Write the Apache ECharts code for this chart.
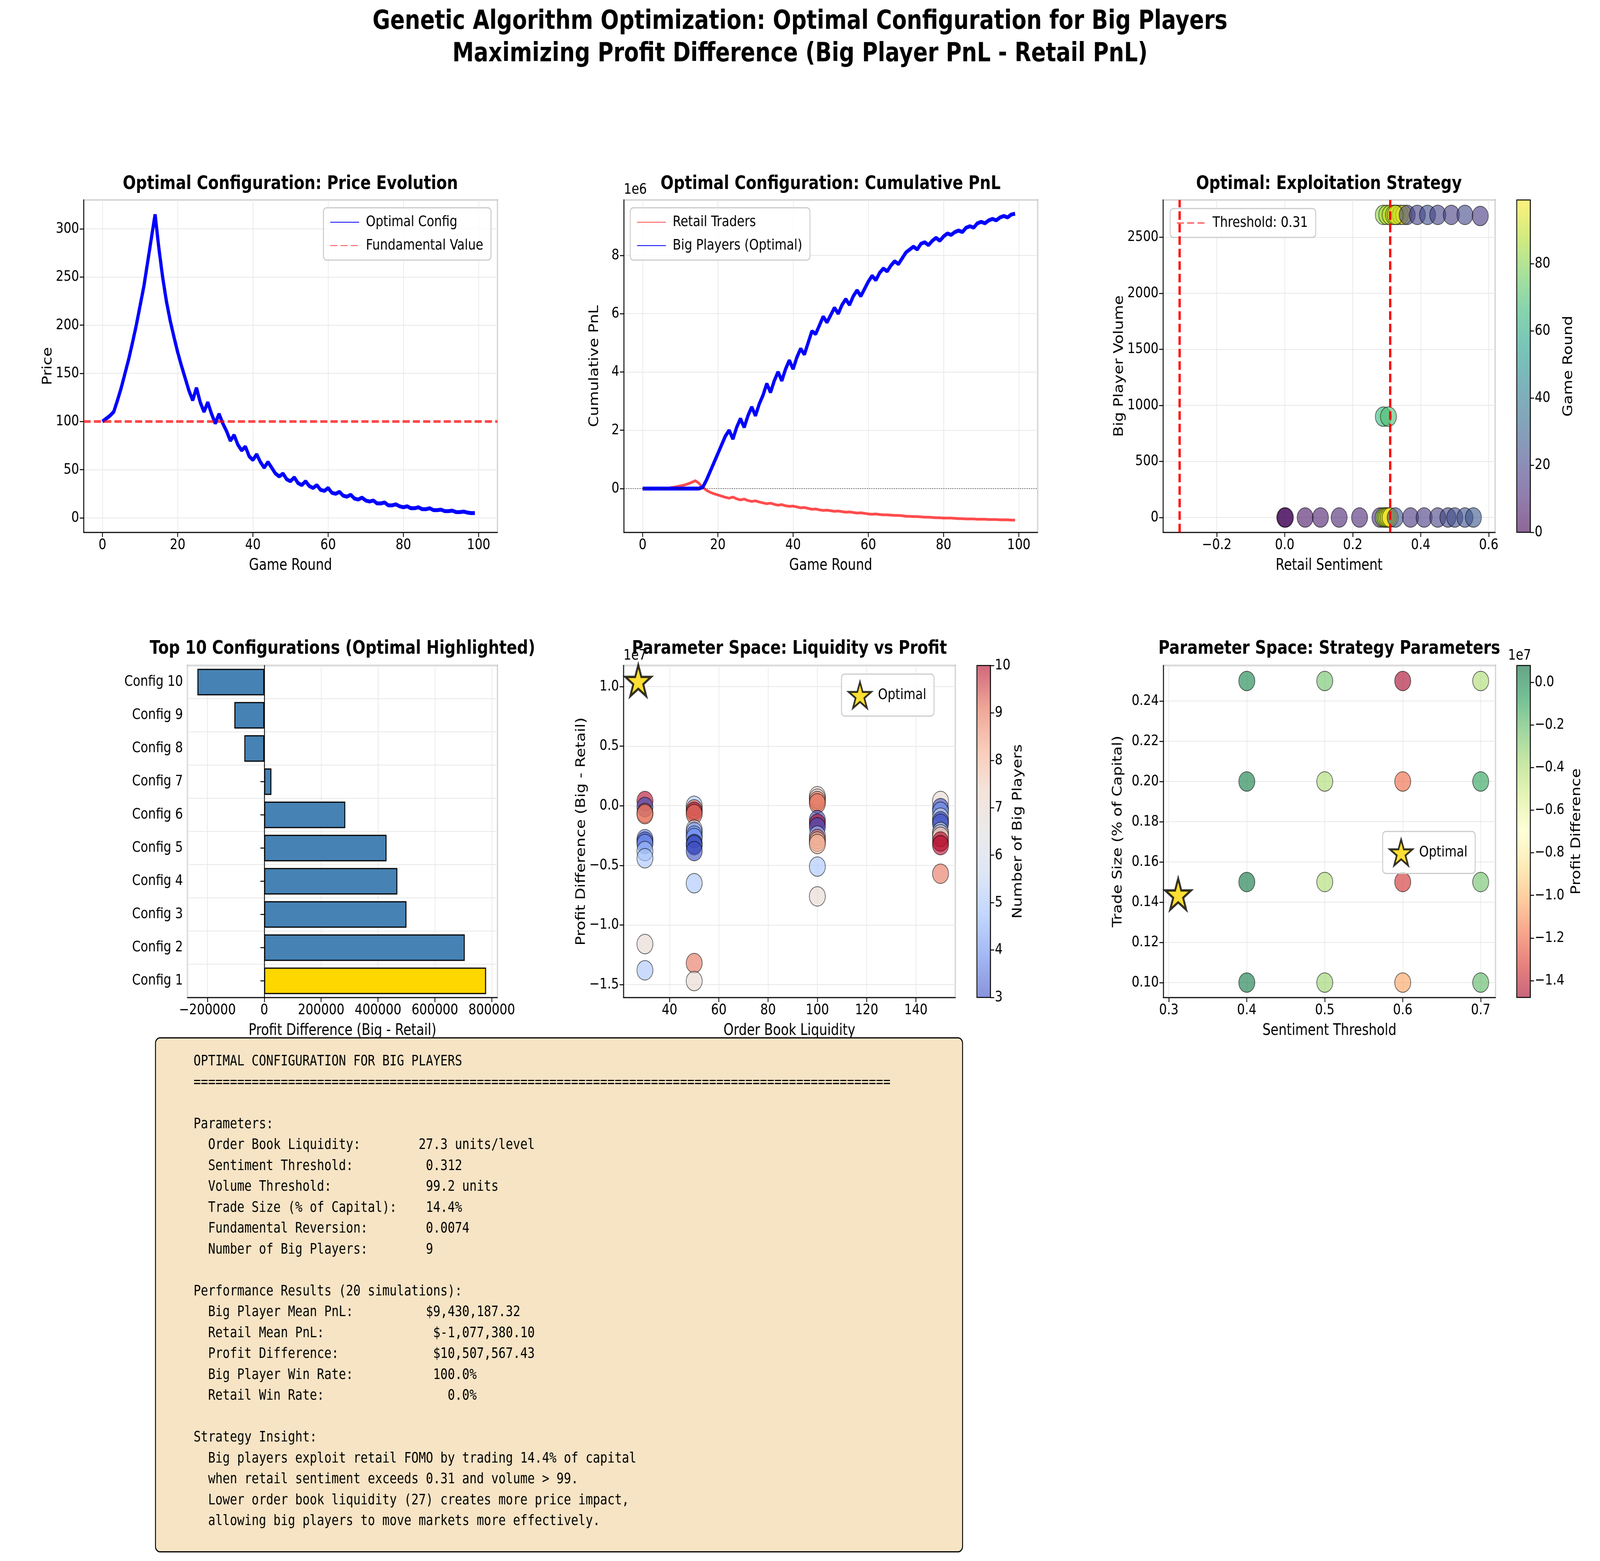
<!DOCTYPE html>
<html><head><meta charset="utf-8">
<script src="https://cdn.jsdelivr.net/npm/echarts@6/dist/echarts.min.js"></script>
<style>html,body{margin:0;padding:0;background:#fff;overflow:hidden}#main{width:4976px;height:3997px;transform-origin:0 0}</style>
</head><body><div id="main"></div>
<script>
// ---- data ----
var rounds = [];
for (var i = 0; i < 100; i++) rounds.push(i);
var price = [100,103,106,110,122,135,150,165,182,200,220,240,265,290,315,280,250,225,205,188,
  172,158,145,132,122,135,120,110,120,108,98,108,98,90,80,86,76,70,74,64,
  60,66,58,52,58,52,46,43,46,40,38,42,36,34,38,33,31,34,29,28,
  31,26,25,27,23,22,24,20,19,21,18,17,18,15,15,16,13,13,14,12,
  11,12,10,10,11,9,9,10,8,8,8.5,7,7,7.5,6,6,6.5,5.5,5,5];
var fundamentalLine = [[-5,100],[105,100]];
var bigPnl = [0,0,0,0,0,0,0,0,0,0,0,0,0,0,0,0,0.05,0.3,0.6,0.9,
  1.2,1.5,1.8,2.0,1.7,2.1,2.4,2.1,2.5,2.8,2.5,2.9,3.2,3.6,3.3,3.7,4.0,3.7,4.1,4.4,
  4.1,4.5,4.8,4.6,5.0,5.4,5.3,5.6,5.9,5.7,5.95,6.2,6.0,6.3,6.5,6.3,6.6,6.8,6.6,6.85,
  7.1,7.3,7.15,7.4,7.55,7.45,7.65,7.8,7.7,7.9,8.1,8.2,8.3,8.2,8.4,8.45,8.35,8.5,8.6,8.5,
  8.65,8.75,8.7,8.8,8.85,8.8,8.95,9.0,8.95,9.1,9.15,9.1,9.2,9.25,9.2,9.3,9.35,9.3,9.4,9.43];
var retailPnl = [0,0,0,0,0,0,0.01,0.02,0.04,0.06,0.09,0.12,0.16,0.21,0.27,0.18,0.04,-0.06,-0.13,-0.18,
  -0.22,-0.26,-0.3,-0.33,-0.29,-0.35,-0.39,-0.36,-0.41,-0.44,-0.42,-0.46,-0.49,-0.52,-0.5,-0.54,-0.57,-0.55,-0.59,-0.61,
  -0.6,-0.63,-0.66,-0.65,-0.68,-0.71,-0.7,-0.73,-0.75,-0.74,-0.76,-0.78,-0.77,-0.79,-0.81,-0.8,-0.82,-0.84,-0.83,-0.85,
  -0.87,-0.88,-0.87,-0.89,-0.9,-0.9,-0.91,-0.92,-0.92,-0.93,-0.95,-0.95,-0.96,-0.96,-0.97,-0.98,-0.98,-0.99,-1.0,-1.0,
  -1.01,-1.01,-1.01,-1.02,-1.03,-1.03,-1.04,-1.04,-1.04,-1.05,-1.05,-1.05,-1.06,-1.06,-1.06,-1.07,-1.07,-1.07,-1.08,-1.08];
// [retail sentiment, big player volume, game round]
var exploit = [
  [0.29,2700,82],[0.30,2700,86],[0.31,2700,90],[0.32,2700,94],[0.33,2700,97],[0.34,2700,88],[0.35,2700,99],[0.325,2700,92],
  [0.36,2700,20],[0.39,2700,18],[0.42,2700,22],[0.45,2700,19],[0.49,2700,17],[0.53,2700,21],[0.575,2690,15],
  [0.29,900,65],[0.305,900,70],
  [0.0,0,0],[0.002,0,2],[0.06,0,5],[0.105,0,7],[0.16,0,9],[0.22,0,10],[0.28,0,12],
  [0.29,0,84],[0.295,0,88],[0.30,0,92],[0.305,0,96],[0.31,0,99],
  [0.325,0,25],[0.37,0,14],[0.41,0,16],[0.45,0,18],[0.48,0,20],[0.50,0,22],[0.53,0,24],[0.555,0,26]];
var thresholds = [0.312, -0.312];
var configNames = ['Config 1','Config 2','Config 3','Config 4','Config 5','Config 6','Config 7','Config 8','Config 9','Config 10'];
var configProfit = [780000,705000,500000,468000,430000,285000,25000,-70000,-105000,-235000];
// [order book liquidity, profit diff (1e7), number of big players]
var liquidity = [
  [30,0.04,10],[30,-0.01,3],[30,-0.06,9],[30,-0.07,9],[30,-0.28,4],[30,-0.3,3],[30,-0.32,4],[30,-0.38,5],[30,-0.44,5],[30,-1.16,7],[30,-1.38,5],
  [50,0.0,5],[50,-0.03,9],[50,-0.05,10],[50,-0.07,9],[50,-0.2,6],[50,-0.22,4],[50,-0.25,4],[50,-0.27,4],[50,-0.32,3],[50,-0.33,3],[50,-0.38,3],[50,-0.65,5],[50,-1.32,9],[50,-1.47,7],
  [100,0.08,7],[100,0.06,7],[100,0.04,9],[100,0.02,9],[100,-0.12,3],[100,-0.15,10],[100,-0.18,3],[100,-0.25,5],[100,-0.28,9],[100,-0.3,8],[100,-0.32,8],[100,-0.51,5],[100,-0.76,7],
  [150,0.04,7],[150,-0.02,3],[150,-0.05,4],[150,-0.1,6],[150,-0.13,3],[150,-0.15,3],[150,-0.22,6],[150,-0.24,6],[150,-0.26,8],[150,-0.3,10],[150,-0.33,10],[150,-0.57,9]];
var optimalLiq = [[27.3,1.05]];
// [sentiment threshold, trade size, profit diff (1e7)]
var strategy = [
  [0.4,0.25,0.0],[0.5,0.25,-0.25],[0.6,0.25,-1.6],[0.7,0.25,-0.4],
  [0.4,0.20,0.02],[0.5,0.20,-0.4],[0.6,0.20,-1.2],[0.7,0.20,-0.1],
  [0.4,0.15,0.05],[0.5,0.15,-0.4],[0.6,0.15,-1.35],[0.7,0.15,-0.25],
  [0.4,0.10,0.03],[0.5,0.10,-0.35],[0.6,0.10,-1.05],[0.7,0.10,-0.2]];
var optimalStrat = [[0.312,0.144]];

var textLines = [
  'OPTIMAL CONFIGURATION FOR BIG PLAYERS',
  '================================================================================================',
  '',
  'Parameters:',
  '  Order Book Liquidity:        27.3 units/level',
  '  Sentiment Threshold:          0.312',
  '  Volume Threshold:             99.2 units',
  '  Trade Size (% of Capital):    14.4%',
  '  Fundamental Reversion:        0.0074',
  '  Number of Big Players:        9',
  '',
  'Performance Results (20 simulations):',
  '  Big Player Mean PnL:          $9,430,187.32',
  '  Retail Mean PnL:               $-1,077,380.10',
  '  Profit Difference:             $10,507,567.43',
  '  Big Player Win Rate:           100.0%',
  '  Retail Win Rate:                 0.0%',
  '',
  'Strategy Insight:',
  '  Big players exploit retail FOMO by trading 14.4% of capital',
  '  when retail sentiment exceeds 0.31 and volume > 99.',
  '  Lower order book liquidity (27) creates more price impact,',
  '  allowing big players to move markets more effectively.'];

var viridis = ['#440154','#482878','#3e4989','#31688e','#26828e','#1f9e89','#35b779','#6ece58','#b5de2b','#fde725'];
var coolwarm = ['#3b4cc0','#6788ee','#9abbff','#c9d7f0','#dddddd','#edd1c2','#f7a889','#e26952','#b40426'];
var rdylgn = ['#a50026','#d73027','#f46d43','#fdae61','#fee08b','#ffffbf','#d9ef8b','#a6d96a','#66bd63','#1a9850','#006837'];

// fit the 4976x3997 canvas to whatever viewport we actually get
var box = document.getElementById('main');
var vw = document.documentElement.clientWidth || 4976, vh = document.documentElement.clientHeight || 3997;
if (vw !== 4976 || vh !== 3997) box.style.transform = 'scale(' + (vw / 4976) + ',' + (vh / 3997) + ')';

// ---- layout ----
var F = 'DejaVu Sans';
var TICK = 38, LAB = 40, TTL = 48;
var R1 = {top:512, h:851}, R2 = {top:1704, h:850};
var G = [
  {left:260, width:1287, top:R1.top, height:R1.h},
  {left:1940, width:1287, top:R1.top, height:R1.h},
  {left:3617, width:1033, top:R1.top, height:R1.h},
  {left:583, width:964, top:R2.top, height:R2.h},
  {left:1939, width:1032, top:R2.top, height:R2.h},
  {left:3618, width:1033, top:R2.top, height:R2.h},
  {left:4717, width:42, top:R1.top, height:R1.h},
  {left:3038, width:42, top:R2.top, height:R2.h},
  {left:4717, width:42, top:R2.top, height:R2.h}
];
function minus(v){ return String(v).replace('-', '\u2212'); }
function fx(d){ return function(v){ return minus(v.toFixed(d)); }; }
function axis(idx, o){
  var a = {
    gridIndex: idx, type: 'value', scale: false,
    axisLine: {show:true, onZero:false, lineStyle:{color:'#000', width:2.5}},
    axisTick: {show:true, inside:false, length:12, lineStyle:{color:'#000', width:2.5}},
    axisLabel: {color:'#000', fontFamily:F, fontSize:TICK, margin:14, showMinLabel:false, showMaxLabel:false, formatter:fx(0)},
    splitLine: {show:true, lineStyle:{color:'#e8e8e8', width:2}},
    nameTextStyle: {color:'#000', fontFamily:F, fontSize:LAB},
    nameLocation: 'middle'
  };
  for (var k in o) {
    if (k === 'axisLabel') { for (var j in o[k]) a.axisLabel[j] = o[k][j]; }
    else a[k] = o[k];
  }
  return a;
}
var grids = G.map(function(g){ return {left:g.left, top:g.top, width:g.width, height:g.height, show:true, borderColor:'#000', borderWidth:2.5, backgroundColor:'transparent', containLabel:false}; });

var xAxes = [
  axis(0,{min:-5,max:105,splitNumber:5,name:'Game Round',nameGap:66}),
  axis(1,{min:-5,max:105,splitNumber:5,name:'Game Round',nameGap:66}),
  axis(2,{min:-0.358,max:0.619,splitNumber:5,name:'Retail Sentiment',nameGap:66,axisLabel:{formatter:fx(1)}}),
  axis(3,{min:-270000,max:820000,splitNumber:5,name:'Profit Difference (Big - Retail)',nameGap:66}),
  axis(4,{min:21.3,max:156,splitNumber:7,name:'Order Book Liquidity',nameGap:66}),
  axis(5,{min:0.293,max:0.719,splitNumber:4,name:'Sentiment Threshold',nameGap:66,axisLabel:{formatter:fx(1)}}),
  {gridIndex:6, type:'value', min:0, max:1, show:false},
  {gridIndex:7, type:'value', min:0, max:1, show:false},
  {gridIndex:8, type:'value', min:0, max:1, show:false}
];
function cbAxis(idx, o){
  var a = axis(idx, o);
  a.position = 'right'; a.splitLine = {show:false};
  a.nameRotate = 90; a.axisLabel.showMinLabel = true; a.axisLabel.showMaxLabel = true;
  return a;
}
var yAxes = [
  axis(0,{min:-15,max:330,splitNumber:7,name:'Price',nameGap:90}),
  axis(1,{min:-1.5,max:9.9,splitNumber:6,name:'Cumulative PnL',nameGap:70}),
  axis(2,{min:-132,max:2833,splitNumber:6,name:'Big Player Volume',nameGap:115}),
  {gridIndex:3, type:'category', data:configNames,
    axisLine:{show:true,lineStyle:{color:'#000',width:2.5}},
    axisTick:{show:true,alignWithLabel:true,length:12,lineStyle:{color:'#000',width:2.5}},
    axisLabel:{color:'#000',fontFamily:F,fontSize:TICK,margin:14},
    splitLine:{show:true,interval:0,lineStyle:{color:'#e8e8e8',width:2}}},
  axis(4,{min:-1.608,max:1.177,splitNumber:6,name:'Profit Difference (Big - Retail)',nameGap:95,axisLabel:{formatter:fx(1)}}),
  axis(5,{min:0.0926,max:0.2577,splitNumber:8,name:'Trade Size (% of Capital)',nameGap:120,axisLabel:{formatter:fx(2)}}),
  cbAxis(6,{min:0,max:99,splitNumber:5,name:'Game Round',nameGap:100}),
  cbAxis(7,{min:3,max:10,interval:1,name:'Number of Big Players',nameGap:60}),
  cbAxis(8,{min:-1.479,max:0.079,splitNumber:8,name:'Profit Difference',nameGap:125,axisLabel:{formatter:fx(1)}})
];
yAxes[6].axisLabel.showMaxLabel = false;
yAxes[8].axisLabel.showMinLabel = false; yAxes[8].axisLabel.showMaxLabel = false;

var starPath = 'path://M50,0 L61.8,35.5 L99,35.5 L69,57.5 L80.5,93 L50,71 L19.5,93 L31,57.5 L1,35.5 L38.2,35.5 Z';
var dot = {borderColor:'#000', borderWidth:2, opacity:0.6};

var series = [
  {name:'Optimal Config', type:'line', xAxisIndex:0, yAxisIndex:0, showSymbol:false, symbol:'none',
    data: rounds.map(function(r,i){return [r, price[i]];}), lineStyle:{color:'#0000ff', width:10}, itemStyle:{color:'#0000ff'}},
  {name:'Fundamental Value', type:'line', xAxisIndex:0, yAxisIndex:0, symbol:'none', data:fundamentalLine,
    lineStyle:{color:'#ff0000', width:7, type:[22,10], opacity:0.7}, itemStyle:{color:'#ff0000', opacity:0.7}},
  {name:'Retail Traders', type:'line', xAxisIndex:1, yAxisIndex:1, symbol:'none',
    data: rounds.map(function(r,i){return [r, retailPnl[i]];}), lineStyle:{color:'#ff0000', width:7, opacity:0.7}, itemStyle:{color:'#ff4444'},
    markLine:{silent:true, symbol:'none', label:{show:false}, lineStyle:{color:'#000', width:2, type:[3,4], opacity:0.6}, data:[{yAxis:0}]}},
  {name:'Big Players (Optimal)', type:'line', xAxisIndex:1, yAxisIndex:1, symbol:'none',
    data: rounds.map(function(r,i){return [r, bigPnl[i]];}), lineStyle:{color:'#0000ff', width:10}, itemStyle:{color:'#0000ff'}},
  {name:'exploit', type:'scatter', xAxisIndex:2, yAxisIndex:2, symbolSize:50, data:exploit, itemStyle:dot, z:3},
  {name:'Threshold: 0.31', type:'line', xAxisIndex:2, yAxisIndex:2, symbol:'none', data:[],
    lineStyle:{color:'#ff0000', width:7, type:[22,10]}, itemStyle:{color:'#ff0000'},
    markLine:{silent:true, symbol:'none', label:{show:false}, lineStyle:{color:'#ff0000', width:7, type:[22,10]},
      data: thresholds.map(function(t){return {xAxis:t};})}, z:4},
  {name:'configs', type:'bar', xAxisIndex:3, yAxisIndex:3, barWidth:'80%',
    data: configProfit.map(function(v,i){return {value:v, itemStyle:{color: i===0 ? '#ffd700' : '#4682b4'}};}),
    itemStyle:{borderColor:'#000', borderWidth:3},
    markLine:{silent:true, symbol:'none', label:{show:false}, lineStyle:{color:'#000', width:2, type:[6,4], opacity:0.6}, data:[{xAxis:0}]}},
  {name:'liq', type:'scatter', xAxisIndex:4, yAxisIndex:4, symbolSize:50, data:liquidity, itemStyle:dot},
  {name:'Optimal', type:'scatter', xAxisIndex:4, yAxisIndex:4, symbol:starPath, symbolSize:80, data:optimalLiq,
    itemStyle:{color:'#ffd700', borderColor:'#000', borderWidth:6}, z:5},
  {name:'strat', type:'scatter', xAxisIndex:5, yAxisIndex:5, symbolSize:50, data:strategy, itemStyle:dot},
  {name:'Optimal', type:'scatter', xAxisIndex:5, yAxisIndex:5, symbol:starPath, symbolSize:80, data:optimalStrat,
    itemStyle:{color:'#ffd700', borderColor:'#000', borderWidth:6}, z:5}
];

function legendBox(o){
  var l = {orient:'vertical', backgroundColor:'rgba(255,255,255,0.8)', borderColor:'#cccccc', borderWidth:3, borderRadius:10,
    padding:[18,24,18,20], itemGap:22, itemWidth:90, itemHeight:30, itemStyle:{opacity:0},
    textStyle:{fontFamily:F, fontSize:TICK, color:'#000', padding:[0,0,0,16]}};
  for (var k in o) l[k] = o[k];
  return l;
}
var legends = [
  legendBox({data:['Optimal Config','Fundamental Value'], right:4976-1547+20, top:R1.top+20}),
  legendBox({data:['Retail Traders','Big Players (Optimal)'], left:1940+20, top:R1.top+20}),
  legendBox({data:['Threshold: 0.31'], left:3617+22, top:R1.top+22}),
  legendBox({data:[{name:'Optimal', icon:starPath}], left:2617, top:R2.top+22, itemWidth:70, itemHeight:70}),
  legendBox({data:[{name:'Optimal', icon:starPath}], left:4300, top:R2.top+425, itemWidth:70, itemHeight:70})
];
legends[3].itemStyle = {color:'#ffd700', borderColor:'#000', borderWidth:5};
legends[4].itemStyle = {color:'#ffd700', borderColor:'#000', borderWidth:5};

var visualMaps = [
  {show:false, type:'continuous', seriesIndex:4, dimension:2, min:0, max:99, inRange:{color:viridis}},
  {show:false, type:'continuous', seriesIndex:7, dimension:2, min:3, max:10, inRange:{color:coolwarm}},
  {show:false, type:'continuous', seriesIndex:9, dimension:2, min:-1.479, max:0.079, inRange:{color:rdylgn}}
];

function gradRect(g, cols){
  var stops = cols.map(function(c,i){ return {offset:i/(cols.length-1), color:c}; });
  return {type:'rect', left:g.left, top:g.top, shape:{width:g.width, height:g.height}, z:-1,
    style:{fill:new echarts.graphic.LinearGradient(0,1,0,0,stops), opacity:0.6}};
}
function title(text, cx, y){
  return {type:'text', x:cx, y:y, style:{text:text, fontFamily:F, fontSize:TTL, fontWeight:'bold', fill:'#000', align:'center', verticalAlign:'middle'}};
}
function small(text, x, y){
  return {type:'text', x:x, y:y, style:{text:text, fontFamily:F, fontSize:TICK, fill:'#000', align:'left', verticalAlign:'bottom'}};
}
var graphics = [
  {type:'text', x:2488, y:57, style:{text:'Genetic Algorithm Optimization: Optimal Configuration for Big Players', fontFamily:F, fontSize:67, fontWeight:'bold', fill:'#000', align:'center', verticalAlign:'middle'}},
  {type:'text', x:2488, y:140, style:{text:'Maximizing Profit Difference (Big Player PnL - Retail PnL)', fontFamily:F, fontSize:67, fontWeight:'bold', fill:'#000', align:'center', verticalAlign:'middle'}},
  title('Optimal Configuration: Price Evolution', 260+643, 472),
  title('Optimal Configuration: Cumulative PnL', 1940+643, 472),
  title('Optimal: Exploitation Strategy', 3617+516, 472),
  title('Top 10 Configurations (Optimal Highlighted)', 583+482, 1662),
  title('Parameter Space: Liquidity vs Profit', 1939+516, 1662),
  title('Parameter Space: Strategy Parameters', 3618+516, 1662),
  small('1e6', 1940, 505),
  small('1e7', 1939, 1698),
  small('1e7', 4690, 1698),
  gradRect(G[6], viridis), gradRect(G[7], coolwarm), gradRect(G[8], rdylgn),
  {type:'group', z:100, children:[
    {type:'rect', left:482, top:2656, shape:{width:2510, height:1316, r:14}, z:100,
      style:{fill:'#f6e4c5', stroke:'#000', lineWidth:3}},
    {type:'text', x:602, y:2692, z:101, style:{text:textLines.join('\n'), fontFamily:'DejaVu Sans Mono', fontSize:37.5, lineHeight:53.5, fill:'#000', align:'left', verticalAlign:'top'}}
  ]}
];

var myChart = echarts.init(box, null, {renderer:'canvas', width:4976, height:3997});
var option = {
  backgroundColor:'#fff', animation:false,
  grid:grids, xAxis:xAxes, yAxis:yAxes, series:series,
  legend:legends, visualMap:visualMaps, graphic:graphics
};
myChart.setOption(option);
</script></body></html>
